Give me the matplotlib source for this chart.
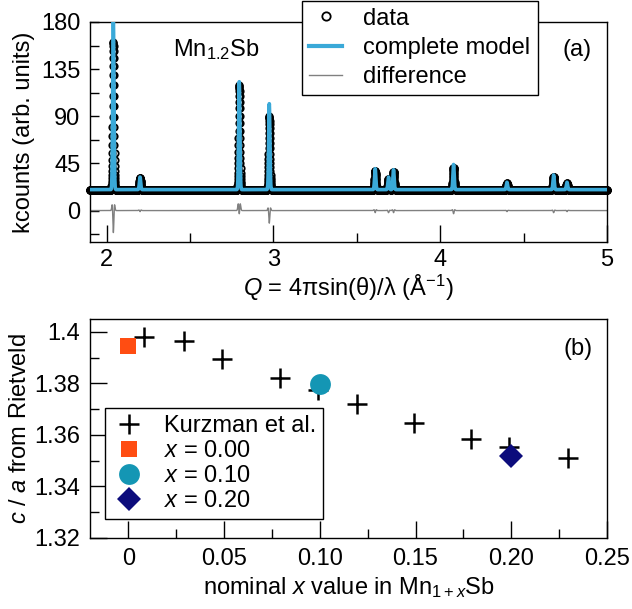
import numpy as np
import matplotlib
matplotlib.use("Agg")
import matplotlib.pyplot as plt
from matplotlib.lines import Line2D

plt.rcParams['font.family'] = ['Liberation Sans', 'DejaVu Sans']
plt.rcParams['mathtext.fontset'] = 'custom'
plt.rcParams['mathtext.rm'] = 'Liberation Sans'
plt.rcParams['mathtext.it'] = 'Liberation Sans:italic'
plt.rcParams['mathtext.bf'] = 'Liberation Sans:bold'
plt.rcParams['axes.unicode_minus'] = True

# ---------------- data: panel (a) ----------------
q_min, q_max, q_step = 1.9, 5.0, 0.0005
background = 20.0
peak_q = [2.040, 2.200, 2.795, 2.975, 3.610, 3.690, 3.720, 4.080, 4.400, 4.680, 4.760]
data_heights = [141, 11, 100, 70, 18, 10, 17, 21, 6, 12, 6]
model_heights = [162, 12, 103, 82, 20, 12, 19, 24, 7, 14, 7]
data_width = 0.0042
model_width = 0.0038

y_ticks_a = [0, 45, 90, 135, 180]
x_ticks_a = [2, 3, 4, 5]

# ---------------- data: panel (b) ----------------
kurzman_x = [0.008, 0.029, 0.049, 0.079, 0.099, 0.1195, 0.149, 0.179, 0.199, 0.2295]
kurzman_ca = [1.398, 1.3965, 1.3896, 1.382, 1.3775, 1.372, 1.3648, 1.3583, 1.3555, 1.351]
sample_x = [0.00, 0.10, 0.20]
sample_ca = [1.3946, 1.3796, 1.352]
sample_labels = ["$x$ = 0.00", "$x$ = 0.10", "$x$ = 0.20"]
sample_colors = ["#ff4d12", "#1496b4", "#0c0c7c"]
sample_markers = ["s", "o", "D"]
sample_sizes = [11.5, 15, 12.5]

x_ticks_b = [0, 0.05, 0.10, 0.15, 0.20, 0.25]
x_ticklabels_b = ["0", "0.05", "0.10", "0.15", "0.20", "0.25"]
y_ticks_b = [1.32, 1.34, 1.36, 1.38, 1.40]
y_ticklabels_b = ["1.32", "1.34", "1.36", "1.38", "1.4"]

# build profiles from peak list
Q = np.arange(q_min, q_max + q_step / 2, q_step)
data = np.full_like(Q, background)
model = np.full_like(Q, background)
for q0, hd, hm in zip(peak_q, data_heights, model_heights):
    data += hd * np.exp(-0.5 * ((Q - q0) / data_width) ** 2)
    model += hm * np.exp(-0.5 * ((Q - q0) / model_width) ** 2)
difference = data - model

FS = 17
W, H = 632, 609
fig = plt.figure(figsize=(W / 100, H / 100), dpi=100)

def px_axes(l, t, r, b):
    return fig.add_axes([l / W, 1 - b / H, (r - l) / W, (b - t) / H])

blue = "#3aa9d8"

# ---------------- panel (a) ----------------
ax1 = px_axes(90, 22, 607, 242)
ax1.plot(Q, data, 'o', mfc='none', mec='black', ms=4.6, mew=1.3, clip_on=False, zorder=2)
ax1.plot(Q, model, '-', color=blue, lw=2.6, zorder=3)
ax1.plot(Q, difference, '-', color='#808080', lw=1.0, zorder=2)
ax1.set_xlim(1.9, 5.0)
ax1.set_ylim(-30, 180)
ax1.set_xticks(x_ticks_a)
ax1.set_xticks([2.5, 3.5, 4.5], minor=True)
ax1.set_yticks(y_ticks_a)
ax1.set_yticks([-22.5, 22.5, 67.5, 112.5, 157.5], minor=True)
ax1.tick_params(axis='both', which='both', direction='in', labelsize=FS, width=1.0,
                top=False, right=False)
ax1.tick_params(axis='x', which='major', length=12, pad=5)
ax1.tick_params(axis='x', which='minor', length=6.5)
ax1.tick_params(axis='y', which='major', length=6.5, pad=7)
ax1.tick_params(axis='y', which='minor', length=6.5)
for s in ax1.spines.values():
    s.set_linewidth(1.0)
ax1.set_xlabel(r"$Q$ = 4πsin(θ)/λ (Å$^{-1}$)", fontsize=FS)
ax1.set_ylabel("kcounts (arb. units)", fontsize=FS)
ax1.xaxis.set_label_coords(0.5, -0.14)
ax1.yaxis.set_label_coords(-0.106, 0.5)
ax1.text(0.244, 0.845, r"Mn$_{1.2}$Sb", transform=ax1.transAxes, fontsize=FS,
         ha='center', va='baseline')
ax1.text(0.942, 0.845, "(a)", transform=ax1.transAxes, fontsize=FS,
         ha='center', va='baseline')

h_a = [Line2D([], [], ls='none', marker='o', mfc='none', mec='black', ms=6, mew=1.3),
       Line2D([], [], color=blue, lw=3),
       Line2D([], [], color='#808080', lw=1.0)]
leg_a = ax1.legend(h_a, ["data", "complete model", "difference"], loc='upper left',
                   bbox_to_anchor=(302 / W, 0.999), bbox_transform=fig.transFigure,
                   fontsize=FS, frameon=True, fancybox=False, framealpha=1,
                   edgecolor='black', borderaxespad=0, handlelength=1.4,
                   handletextpad=0.9, labelspacing=0.3, borderpad=0.3)
leg_a.get_frame().set_linewidth(1.0)

# ---------------- panel (b) ----------------
ax2 = px_axes(90, 319, 607, 538)
ax2.plot(kurzman_x, kurzman_ca, '+', color='black', ms=14, mew=1.8, ls='none',
         label="Kurzman et al.", zorder=2)
for xv, yv, lab, col, mk, sz in zip(sample_x, sample_ca, sample_labels,
                                    sample_colors, sample_markers, sample_sizes):
    ax2.plot([xv], [yv], marker=mk, color=col, ms=sz, ls='none', mew=0,
             label=lab, zorder=3)
ax2.set_xlim(-0.02, 0.25)
ax2.set_ylim(1.32, 1.405)
ax2.set_xticks(x_ticks_b)
ax2.set_xticklabels(x_ticklabels_b)
ax2.set_xticks([0.025, 0.075, 0.125, 0.175, 0.225], minor=True)
ax2.set_yticks(y_ticks_b)
ax2.set_yticklabels(y_ticklabels_b)
ax2.set_yticks([1.33, 1.35, 1.37, 1.39], minor=True)
ax2.tick_params(axis='both', which='both', direction='in', labelsize=FS, width=1.0,
                top=False, right=False)
ax2.tick_params(axis='both', which='major', length=12, pad=7)
ax2.tick_params(axis='both', which='minor', length=6.5)
for s in ax2.spines.values():
    s.set_linewidth(1.0)
ax2.set_xlabel(r"nominal $x$ value in Mn$_{1+x}$Sb", fontsize=FS)
ax2.set_ylabel(r"$c$ / $a$ from Rietveld", fontsize=FS)
ax2.xaxis.set_label_coords(0.5, -0.17)
ax2.yaxis.set_label_coords(-0.114, 0.5)
ax2.text(0.944, 0.836, "(b)", transform=ax2.transAxes, fontsize=FS,
         ha='center', va='baseline')
leg_b = ax2.legend(loc='lower left', bbox_to_anchor=(0.029, 0.087), fontsize=FS,
                   frameon=True, fancybox=False, framealpha=1, edgecolor='black',
                   borderaxespad=0, handlelength=1.4, handletextpad=0.8,
                   labelspacing=0.12, borderpad=0.3, numpoints=1)
leg_b.get_frame().set_linewidth(1.0)

fig.savefig("out.png", dpi=100)
